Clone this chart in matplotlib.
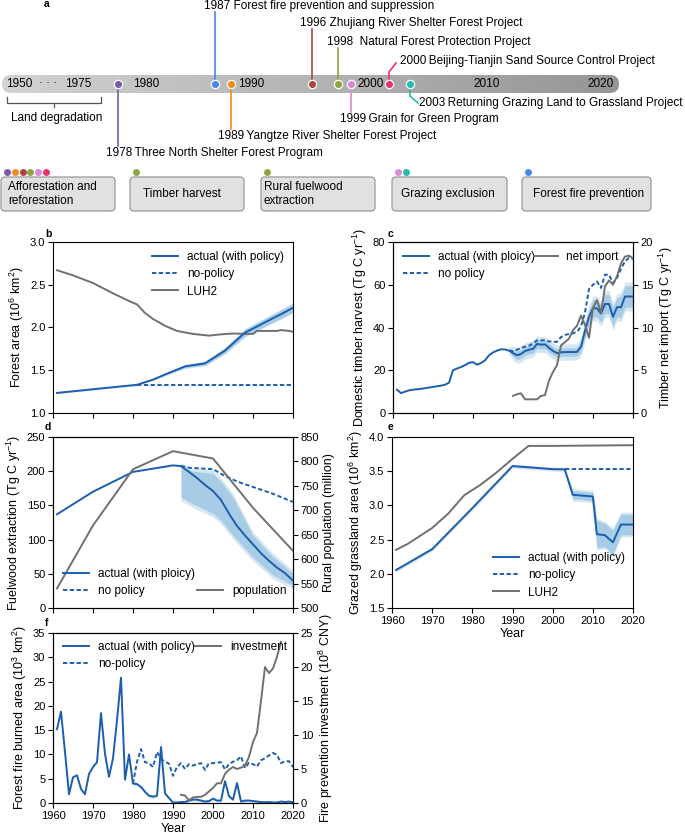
import numpy as np
import matplotlib
matplotlib.use("Agg")
import matplotlib.pyplot as plt
from matplotlib.patches import FancyBboxPatch
from matplotlib.colors import LinearSegmentedColormap

# ======================= DATA =======================
# (a) policy timeline
event_years = [1978, 1987, 1989, 1996, 1998, 1999, 2000, 2003]
event_names = ["Three North Shelter Forest Program",
               "Forest fire prevention and suppression",
               "Yangtze River Shelter Forest Project",
               "Zhujiang River Shelter Forest Project",
               "Natural Forest Protection Project",
               "Grain for Green Program",
               "Beijing-Tianjin Sand Source Control Project",
               "Returning Grazing Land to Grassland Project"]
event_colors = ["#7b5ba6", "#4a86e8", "#f08c1e", "#b0453f",
                "#8ea641", "#d98ad6", "#e8336b", "#25bdb0"]
timeline_labels = ["1950", "1975", "1980", "1990", "2000", "2010", "2020"]
policy_names = ["Afforestation and\nreforestation", "Timber harvest",
                "Rural fuelwood\nextraction", "Grazing exclusion",
                "Forest fire prevention"]
policy_events = [[1978, 1989, 1996, 1998, 1999, 2000], [1998], [1998],
                 [1999, 2003], [1987]]

# (b) forest area (10^6 km2)
b_years = [1961, 1981, 1985, 1988, 1993, 1998, 2003, 2008, 2013, 2018, 2020]
b_actual = [1.235, 1.33, 1.39, 1.45, 1.545, 1.58, 1.73, 1.94, 2.06, 2.18, 2.23]
b_unc = [0, 0, 0, 0.005, 0.015, 0.02, 0.03, 0.04, 0.045, 0.05, 0.05]
b_nopol_years = [1981, 2020]
b_nopol = [1.33, 1.33]
b_luh_years = [1961, 1965, 1970, 1975, 1979, 1981, 1983, 1985, 1988, 1991, 1995,
               1999, 2002, 2005, 2008, 2010, 2011, 2016, 2017, 2019, 2020]
b_luh = [2.67, 2.61, 2.52, 2.40, 2.31, 2.27, 2.17, 2.10, 2.02, 1.96, 1.925,
         1.905, 1.92, 1.93, 1.925, 1.925, 1.96, 1.96, 1.97, 1.96, 1.95]

# (c) domestic timber harvest (Tg C/yr) and net import
c_years = list(range(1961, 2021))
c_actual = [10.9, 9.3, 10.0, 10.6, 10.9, 11.1, 11.3, 11.6, 11.9, 12.2,
            12.5, 12.8, 13.2, 14.2, 20.0, 20.8, 21.5, 22.4, 23.5, 23.8,
            22.6, 23.4, 24.6, 27.0, 28.3, 29.2, 29.8, 29.7, 29.2, 28.0,
            27.0, 27.6, 29.0, 29.6, 30.0, 32.3, 32.0, 32.1, 30.5, 29.0,
            28.0, 28.4, 28.5, 28.5, 28.5, 28.6, 31.0, 38.5, 45.0, 49.0,
            49.0, 46.5, 51.0, 51.0, 45.0, 49.5, 49.5, 54.5, 54.5, 54.5]
c_unc_years = list(range(1989, 2021))
c_unc = [0, 1.5, 2, 2, 2, 2, 2, 2, 2, 2, 2, 2, 2, 2, 2, 2,
         2, 2, 2.5, 3, 3.5, 4, 4, 4, 4.5, 4.5, 4.5, 4.5, 5, 5, 5, 5]
c_nopol_years = list(range(1989, 2021))
c_nopol = [29.2, 29.0, 29.6, 30.4, 31.0, 31.5, 32.5, 34.0, 34.0, 34.0,
           33.5, 33.3, 33.3, 35.5, 36.5, 37.0, 37.3, 38.0, 40.5, 47.0,
           58.0, 60.0, 61.5, 58.5, 64.7, 64.7, 60.8, 63.2, 67.5, 71.0, 72.5, 72.0]
c_import_years = list(range(1990, 2021))
c_import = [2.0, 2.2, 2.3, 1.6, 1.6, 1.6, 1.6, 2.0, 2.1, 3.8,
            4.8, 5.6, 7.9, 8.3, 8.7, 9.7, 10.2, 11.4, 10.3, 8.8,
            12.3, 13.2, 11.7, 14.8, 15.5, 15.0, 16.0, 17.5, 18.3, 18.4, 18.1]

# (d) fuelwood extraction (Tg C/yr) and rural population (million)
d_years = [1961, 1970, 1980, 1990, 1992, 1994, 1996, 1998, 2000, 2002,
           2004, 2006, 2008, 2010, 2012, 2014, 2016, 2018, 2020]
d_actual = [137, 170, 199, 208.5, 207.5, 199, 190, 180, 171, 158,
            138, 120, 106, 93, 80, 69, 59, 51, 40]
d_band_years = [1992, 1995, 2000, 2002, 2005, 2010, 2015, 2020]
d_band_low = [162, 152, 138, 128, 106, 74, 48, 33]
d_band_high = [207, 200, 197, 185, 162, 106, 75, 50]
d_nopol_years = [1992, 1994, 2000, 2003, 2006, 2010, 2015, 2020]
d_nopol = [207.5, 205, 203, 193, 185, 177, 167, 155]
d_pop_years = [1961, 1970, 1980, 1990, 2000, 2010, 2020]
d_pop = [540, 669, 784, 821, 806, 705, 617]

# (e) grazed grassland area (10^6 km2)
e_years = [1961, 1970, 1980, 1990, 2000, 2003, 2005, 2010, 2011, 2013, 2015, 2017, 2020]
e_actual = [2.055, 2.36, 2.96, 3.575, 3.53, 3.527, 3.155, 3.13, 2.58, 2.565, 2.46, 2.72, 2.72]
e_unc = [0, 0, 0, 0, 0, 0, 0.06, 0.06, 0.2, 0.17, 0.18, 0.15, 0.15]
e_nopol_years = [2003, 2020]
e_nopol = [3.527, 3.527]
e_luh_years = [1961, 1964, 1970, 1974, 1978, 1982, 1986, 1990, 1994, 2000, 2010, 2020]
e_luh = [2.35, 2.44, 2.67, 2.88, 3.15, 3.30, 3.48, 3.68, 3.87, 3.87, 3.875, 3.88]

# (f) forest fire burned area (10^3 km2) and fire prevention investment (10^8 CNY)
f_years = list(range(1961, 2021))
f_actual = [15.2, 18.8, 10.5, 1.8, 5.3, 5.7, 2.9, 1.8, 6.0, 7.4,
            8.4, 18.5, 10.1, 5.4, 9.2, 17.0, 25.8, 4.8, 10.0, 4.0,
            3.9, 3.3, 2.3, 1.5, 1.3, 1.5, 11.5, 2.0, 1.0, 0.1,
            0.1, 0.2, 0.2, 0.5, 0.7, 0.7, 0.5, 0.3, 0.4, 0.9,
            0.5, 0.5, 4.5, 1.4, 0.7, 4.1, 0.3, 0.5, 0.5, 0.4,
            0.3, 0.2, 0.15, 0.2, 0.1, 0.1, 0.3, 0.2, 0.3, 0.1]
f_nopol_years = list(range(1980, 2021))
f_nopol = [4.0, 8.5, 11.1, 8.4, 8.2, 7.4, 10.5, 9.1, 8.5, 8.1,
           5.6, 7.4, 8.2, 7.0, 8.0, 7.7, 8.0, 8.2, 6.8, 8.2,
           8.2, 8.3, 8.4, 6.9, 8.0, 8.5, 8.8, 9.6, 7.2, 8.3,
           8.0, 7.5, 8.8, 9.2, 9.8, 10.3, 9.9, 8.2, 8.6, 8.6, 7.4]
f_invest_years = list(range(1992, 2018))
f_invest = [1.2, 1.1, 0.4, 0.8, 0.9, 0.9, 1.2, 1.7, 2.2, 2.9,
            2.9, 4.3, 4.9, 5.3, 5.0, 5.2, 5.5, 6.8, 9.0, 10.3,
            15.0, 20.0, 19.1, 19.8, 21.5, 23.7]

# ======================= STYLE / LAYOUT =======================
plt.rcParams['font.family'] = ['Liberation Sans', 'DejaVu Sans']
plt.rcParams['mathtext.fontset'] = 'custom'
plt.rcParams['mathtext.rm'] = 'Liberation Sans'
plt.rcParams['mathtext.it'] = 'Liberation Sans:italic'
plt.rcParams['mathtext.bf'] = 'Liberation Sans:bold'
plt.rcParams['axes.linewidth'] = 0.8

BLUE = '#1c5eae'
GRAY = '#707070'
SH_IN = '#a8cce6'
SH_OUT = '#d6e7f4'
DASH = (0, (2.2, 1.3))
LW = 1.4
TICK_FS = 8
LAB_FS = 9
LEG_FS = 8.5
TL_FS = 8.5

W, H = 685, 839
fig = plt.figure(figsize=(W / 100, H / 100), dpi=100)


def px_axes(l, t, r, b):
    return fig.add_axes([l / W, 1 - b / H, (r - l) / W, (b - t) / H])


def style(ax, xlabels=False):
    ax.set_xlim(1960, 2020)
    ax.set_xticks(range(1960, 2021, 10))
    if not xlabels:
        ax.set_xticklabels([])
    ax.tick_params(labelsize=TICK_FS, length=3.5, width=0.8, pad=2)


def legend_at(ax, handles, labels, x, y, hl=2.2):
    return ax.legend(handles, labels, loc='upper left',
                     bbox_to_anchor=(x / W, 1 - y / H),
                     bbox_transform=fig.transFigure, frameon=False,
                     borderpad=0, borderaxespad=0, handlelength=hl,
                     handletextpad=0.75, labelspacing=0.45, fontsize=LEG_FS)


def panel_label(s, x, y):
    fig.text(x / W, 1 - y / H, s, fontsize=7.5, weight='bold',
             ha='left', va='center')


def band(ax, x, lo, hi, pad):
    x = np.asarray(x, float)
    lo = np.asarray(lo, float)
    hi = np.asarray(hi, float)
    ax.fill_between(x, lo - pad, hi + pad, color=SH_OUT, lw=0, zorder=1)
    ax.fill_between(x, lo, hi, color=SH_IN, lw=0, zorder=1.5)


# ---------------- (a) timeline schematic ----------------
ax0 = fig.add_axes([0, 1 - 230 / H, 1, 230 / H])
bar = FancyBboxPatch((2, 75), 617, 18, boxstyle="round,pad=0,rounding_size=9",
                     fc='none', ec='none')
ax0.add_patch(bar)
cmap = LinearSegmentedColormap.from_list('g', ['#d3d3d3', '#959595'])
im = ax0.imshow(np.linspace(0, 1, 256)[None, :], cmap=cmap,
                extent=[2, 619, 93, 75], aspect='auto', zorder=1)
im.set_clip_path(bar)
ax0.set_xlim(0, W)
ax0.set_ylim(230, 0)
ax0.axis('off')

BAR_Y = 84
tl_label_x = [19, 78, 146, 251, 371, 487, 601]
for s, x in zip(timeline_labels, tl_label_x):
    ax0.text(x, BAR_Y, s, fontsize=TL_FS, ha='center', va='center', zorder=3)
ax0.text(48, BAR_Y - 1, "\u00b7 \u00b7 \u00b7", fontsize=TL_FS, ha='center', va='center', zorder=3)

dot_x = {1978: 118, 1987: 215, 1989: 231, 1996: 312, 1998: 338, 1999: 351, 2000: 389, 2003: 410}
lab_x = {1978: 106, 1987: 204, 1989: 218, 1996: 300, 1998: 327, 1999: 340, 2000: 400, 2003: 419}
lab_y = {1978: 153, 1987: 6, 1989: 136, 1996: 23, 1998: 42, 1999: 119, 2000: 61, 2003: 103}
sep = {1978: "\u2009", 1987: " ", 1989: "\u2009", 1996: " ", 1998: "  ",
       1999: "\u2009", 2000: "\u2009", 2003: "\u2009"}
for yr, name, col in zip(event_years, event_names, event_colors):
    x = dot_x[yr]
    ly = lab_y[yr]
    if yr == 2000:
        ax0.plot([x, x, lab_x[yr] - 4], [BAR_Y, 72, ly + 2], color=col, lw=1.2, zorder=2)
    elif yr == 2003:
        ax0.plot([x, x, lab_x[yr] - 1], [BAR_Y, 96, ly], color=col, lw=1.2, zorder=2)
    elif ly < BAR_Y:
        ax0.plot([x, x], [BAR_Y, ly + 6], color=col, lw=1.2, zorder=2)
    else:
        ax0.plot([x, x], [BAR_Y, ly - 7], color=col, lw=1.2, zorder=2)
    ax0.plot(x, BAR_Y, 'o', ms=6, mfc=col, mec='white', mew=0.9, zorder=4)
    ax0.text(lab_x[yr], ly, f"{yr}{sep[yr]}{name}", fontsize=TL_FS,
             ha='left', va='center', zorder=3)

# land degradation bracket
ax0.plot([7, 7, 101, 101], [97, 103, 103, 97], color='#555555', lw=0.9)
ax0.plot([54, 54], [103, 107], color='#555555', lw=0.9)
ax0.text(57, 118, "Land degradation", fontsize=TL_FS, ha='center', va='center')
ax0.text(44, 4, "a", fontsize=7.5, weight='bold', ha='left', va='center')

# policy boxes
box_px = [(1, 115), (130, 244), (261, 375), (392, 507), (522, 651)]
box_text_dx = [7, 13, 3, 9, 11]
col_of = dict(zip(event_years, event_colors))
for (l, r), name, evs, dx in zip(box_px, policy_names, policy_events, box_text_dx):
    ax0.add_patch(FancyBboxPatch((l, 177), r - l, 34,
                                 boxstyle="round,pad=0,rounding_size=4",
                                 fc='#e1e1e1', ec='#9a9a9a', lw=0.9))
    ax0.text(l + dx, 194, name, fontsize=TL_FS, ha='left', va='center',
             linespacing=1.15)
    for i, e in enumerate(evs):
        ax0.plot(l + 6 + i * 7.8, 172, 'o', ms=5, mfc=col_of[e], mec='none')

# ---------------- (b) forest area ----------------
axb = px_axes(53, 242, 293, 413)
by = np.array(b_actual)
bu = np.array(b_unc)
band(axb, b_years, by - bu, by + bu, 0.01)
lb1, = axb.plot(b_years, b_actual, color=BLUE, lw=LW, zorder=3)
lb2, = axb.plot(b_nopol_years, b_nopol, color=BLUE, lw=LW, ls=DASH, zorder=3)
lb3, = axb.plot(b_luh_years, b_luh, color=GRAY, lw=LW, zorder=2)
axb.set_ylim(1.0, 3.0)
axb.set_yticks([1.0, 1.5, 2.0, 2.5, 3.0])
style(axb)
axb.set_ylabel("Forest area (10$^{6}$ km$^{2}$)", fontsize=LAB_FS, labelpad=3)
legend_at(axb, [lb1, lb2, lb3], ["actual (with policy)", "no-policy", "LUH2"], 152, 251)
panel_label("b", 45, 234)

# ---------------- (c) timber harvest ----------------
axc = px_axes(393, 242, 633, 413)
cy = np.array(c_actual, float)
i0 = c_years.index(c_unc_years[0])
band(axc, c_years[i0:], cy[i0:] - np.array(c_unc), cy[i0:] + np.array(c_unc), 1.8)
lc1, = axc.plot(c_years, c_actual, color=BLUE, lw=LW, zorder=3)
lc2, = axc.plot(c_nopol_years, c_nopol, color=BLUE, lw=LW, ls=DASH, zorder=3)
axc.set_ylim(0, 80)
axc.set_yticks([0, 20, 40, 60, 80])
style(axc)
axc.set_ylabel("Domestic timber harvest (Tg C yr$^{-1}$)", fontsize=LAB_FS, labelpad=3)
axc2 = axc.twinx()
lc3, = axc2.plot(c_import_years, c_import, color=GRAY, lw=LW, zorder=4)
axc2.set_ylim(0, 20)
axc2.set_yticks([0, 5, 10, 15, 20])
axc2.tick_params(labelsize=TICK_FS, length=3.5, width=0.8, pad=2)
axc2.set_ylabel("Timber net import (Tg C yr$^{-1}$)", fontsize=LAB_FS, labelpad=3)
leg_c = legend_at(axc2, [lc1, lc2], ["actual (with ploicy)", "no policy"], 403, 251)
axc2.add_artist(leg_c)
legend_at(axc2, [lc3], ["net import"], 534, 251, hl=2.0)
panel_label("c", 388, 234)

# ---------------- (d) fuelwood ----------------
axd = px_axes(53, 437, 293, 608)
band(axd, d_band_years, d_band_low, d_band_high, 5)
ld1, = axd.plot(d_years, d_actual, color=BLUE, lw=LW, zorder=3)
ld2, = axd.plot(d_nopol_years, d_nopol, color=BLUE, lw=LW, ls=DASH, zorder=3)
axd.set_ylim(0, 250)
axd.set_yticks([0, 50, 100, 150, 200, 250])
style(axd)
axd.set_ylabel("Fuelwood extraction (Tg C yr$^{-1}$)", fontsize=LAB_FS, labelpad=3)
axd2 = axd.twinx()
ld3, = axd2.plot(d_pop_years, d_pop, color=GRAY, lw=LW, zorder=4)
axd2.set_ylim(500, 850)
axd2.set_yticks(range(500, 851, 50))
axd2.tick_params(labelsize=TICK_FS, length=3.5, width=0.8, pad=2)
axd2.set_ylabel("Rural population (million)", fontsize=LAB_FS, labelpad=3)
leg_d = legend_at(axd2, [ld1, ld2], ["actual (with ploicy)", "no policy"], 63, 568)
axd2.add_artist(leg_d)
legend_at(axd2, [ld3], ["population"], 197, 585)
panel_label("d", 45, 427)

# ---------------- (e) grazing ----------------
axe = px_axes(392, 437, 633, 608)
ey = np.array(e_actual)
eu = np.array(e_unc)
band(axe, e_years, ey - eu, ey + eu, 0.03)
le1, = axe.plot(e_years, e_actual, color=BLUE, lw=LW, zorder=3)
le2, = axe.plot(e_nopol_years, e_nopol, color=BLUE, lw=LW, ls=DASH, zorder=3)
le3, = axe.plot(e_luh_years, e_luh, color=GRAY, lw=LW, zorder=2)
axe.set_ylim(1.5, 4.0)
axe.set_yticks([1.5, 2.0, 2.5, 3.0, 3.5, 4.0])
style(axe, xlabels=True)
axe.set_xlabel("Year", fontsize=LAB_FS, labelpad=2)
axe.set_ylabel("Grazed grassland area (10$^{6}$ km$^{2}$)", fontsize=LAB_FS, labelpad=3)
legend_at(axe, [le1, le2, le3], ["actual (with policy)", "no-policy", "LUH2"], 493, 552)
panel_label("e", 388, 427)

# ---------------- (f) forest fire ----------------
axf = px_axes(53, 633, 293, 803)
fy = np.array(f_actual)
f_unc = np.where(np.array(f_years) >= 1980, 0.3, 0.0)
f_unc[f_years.index(1987)] = 2.2
f_mask = np.array(f_years) >= 1979
axf.fill_between(np.array(f_years)[f_mask], np.maximum(fy - f_unc, 0)[f_mask],
                 (fy + f_unc)[f_mask], color=SH_OUT, lw=0, zorder=1)
lf1, = axf.plot(f_years, f_actual, color=BLUE, lw=LW, zorder=3)
lf2, = axf.plot(f_nopol_years, f_nopol, color=BLUE, lw=LW, ls=DASH, zorder=3)
axf.set_ylim(0, 35)
axf.set_yticks(range(0, 36, 5))
style(axf, xlabels=True)
axf.set_xlabel("Year", fontsize=LAB_FS, labelpad=2)
axf.set_ylabel("Forest fire burned area (10$^{3}$ km$^{2}$)", fontsize=LAB_FS, labelpad=3)
axf2 = axf.twinx()
lf3, = axf2.plot(f_invest_years, f_invest, color=GRAY, lw=LW, zorder=4)
axf2.set_ylim(0, 25)
axf2.set_yticks(range(0, 26, 5))
axf2.tick_params(labelsize=TICK_FS, length=3.5, width=0.8, pad=2)
axf2.set_ylabel("Fire prevention investment (10$^{8}$ CNY)", fontsize=LAB_FS, labelpad=3)
leg_f = legend_at(axf2, [lf1, lf2], ["actual (with policy)", "no-policy"], 63, 641)
axf2.add_artist(leg_f)
legend_at(axf2, [lf3], ["investment"], 195, 641)
panel_label("f", 45, 623)

fig.savefig("out.png", dpi=100)
